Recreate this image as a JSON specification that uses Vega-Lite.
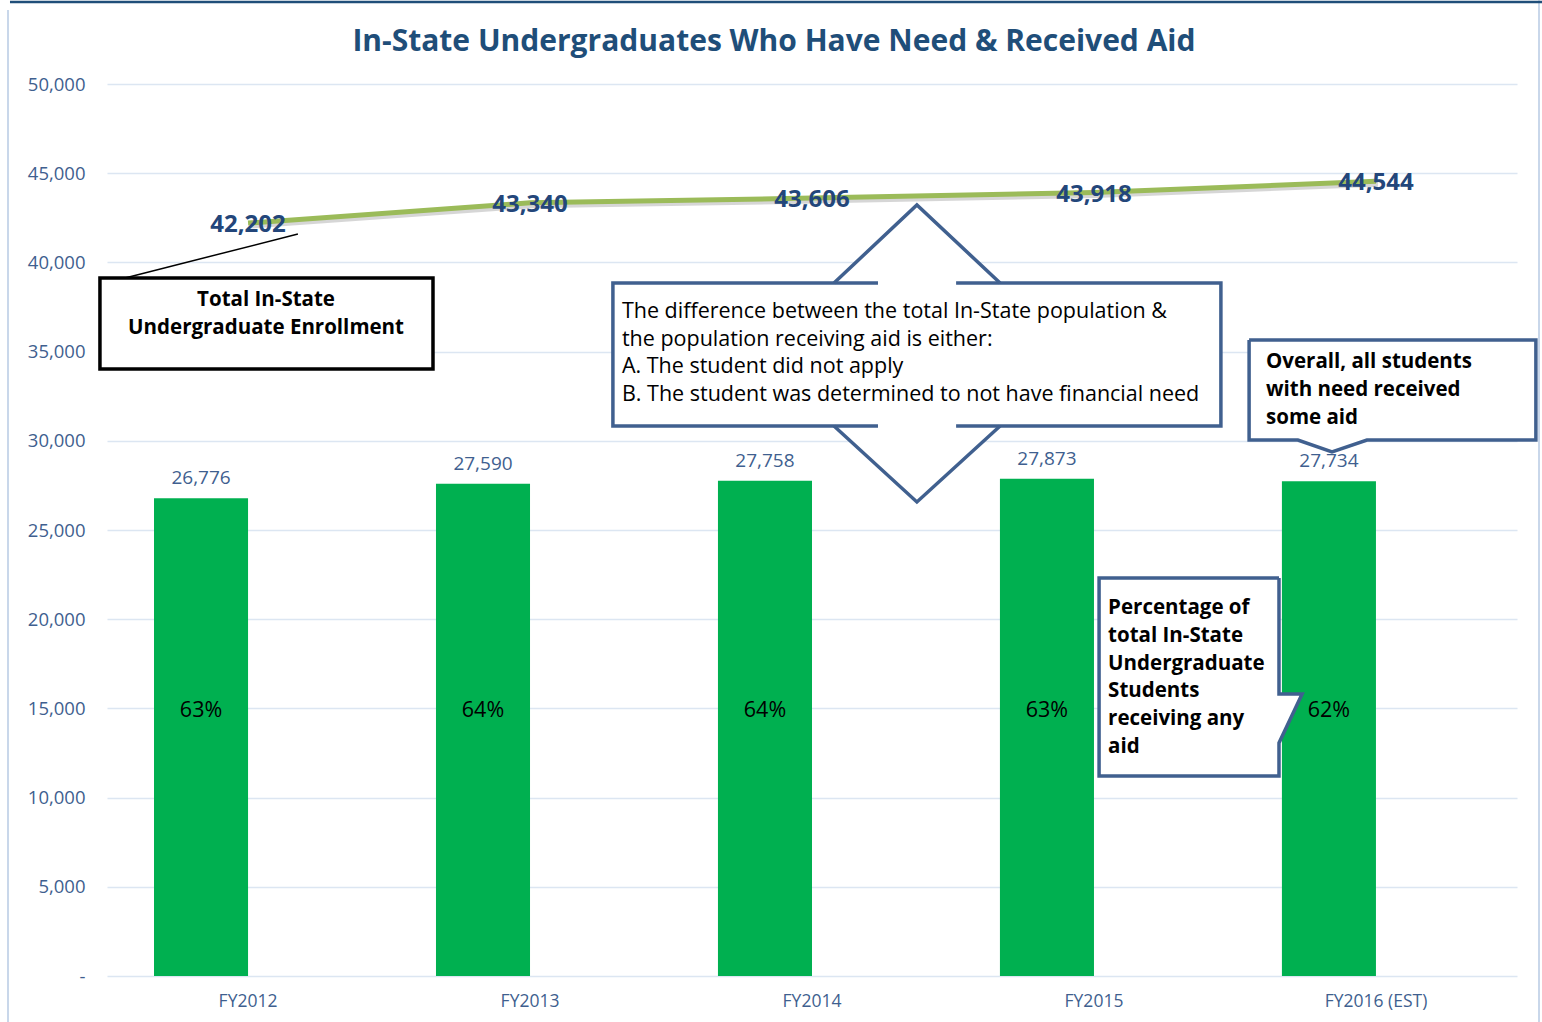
{
  "$schema": "https://vega.github.io/schema/vega-lite/v6.json",
  "width": 1410,
  "height": 892,
  "autosize": {"type": "none"},
  "padding": {"left": 107, "top": 84, "right": 25, "bottom": 46},
  "background": "white",
  "config": {"view": {"stroke": null}, "font": "Open Sans"},
  "datasets": {
    "main": [
      {"year": "FY2012", "series": "Received aid", "received": 26776, "total": 42202, "pct": "63%"},
      {"year": "FY2013", "series": "Received aid", "received": 27590, "total": 43340, "pct": "64%"},
      {"year": "FY2014", "series": "Received aid", "received": 27758, "total": 43606, "pct": "64%"},
      {"year": "FY2015", "series": "Received aid", "received": 27873, "total": 43918, "pct": "63%"},
      {"year": "FY2016 (EST)", "series": "Received aid", "received": 27734, "total": 44544, "pct": "62%"}
    ],
    "fillrects": [
      {"ax": 1.794, "ax2": 3.950, "ay": 30830, "ay2": 38845},
      {"ax": 4.050, "ax2": 5.067, "ay": 30045, "ay2": 35650},
      {"ax": 3.518, "ax2": 4.156, "ay": 11211, "ay2": 22309}
    ],
    "fillareas": [
      {"id": "up", "ax": 2.578, "ay": 38845, "ay2": 38845},
      {"id": "up", "ax": 2.872, "ay": 38845, "ay2": 43218},
      {"id": "up", "ax": 3.167, "ay": 38845, "ay2": 38845},
      {"id": "down", "ax": 2.578, "ay": 30830, "ay2": 30830},
      {"id": "down", "ax": 2.872, "ay": 30830, "ay2": 26570},
      {"id": "down", "ax": 3.167, "ay": 30830, "ay2": 30830},
      {"id": "ov", "ax": 4.223, "ay": 30045, "ay2": 30045},
      {"id": "ov", "ax": 4.344, "ay": 30045, "ay2": 29372},
      {"id": "ov", "ax": 4.468, "ay": 30045, "ay2": 30045},
      {"id": "pc", "ax": 4.156, "ay": 15807, "ay2": 13061},
      {"id": "pc", "ax": 4.238, "ay": 15807, "ay2": 15807}
    ],
    "outlines": [
      {"id": "A", "o": 1, "ax": 2.734, "ay": 38845},
      {"id": "A", "o": 2, "ax": 1.794, "ay": 38845},
      {"id": "A", "o": 3, "ax": 1.794, "ay": 30830},
      {"id": "A", "o": 4, "ax": 2.734, "ay": 30830},
      {"id": "B", "o": 1, "ax": 3.011, "ay": 38845},
      {"id": "B", "o": 2, "ax": 3.950, "ay": 38845},
      {"id": "B", "o": 3, "ax": 3.950, "ay": 30830},
      {"id": "B", "o": 4, "ax": 3.011, "ay": 30830},
      {"id": "U", "o": 1, "ax": 2.578, "ay": 38845},
      {"id": "U", "o": 2, "ax": 2.872, "ay": 43218},
      {"id": "U", "o": 3, "ax": 3.167, "ay": 38845},
      {"id": "D", "o": 1, "ax": 2.578, "ay": 30830},
      {"id": "D", "o": 2, "ax": 2.872, "ay": 26570},
      {"id": "D", "o": 3, "ax": 3.167, "ay": 30830},
      {"id": "OV", "o": 1, "ax": 4.050, "ay": 35650},
      {"id": "OV", "o": 2, "ax": 5.067, "ay": 35650},
      {"id": "OV", "o": 3, "ax": 5.067, "ay": 30045},
      {"id": "OV", "o": 4, "ax": 4.468, "ay": 30045},
      {"id": "OV", "o": 5, "ax": 4.344, "ay": 29372},
      {"id": "OV", "o": 6, "ax": 4.223, "ay": 30045},
      {"id": "OV", "o": 7, "ax": 4.050, "ay": 30045},
      {"id": "OV", "o": 8, "ax": 4.050, "ay": 35650},
      {"id": "PC", "o": 1, "ax": 4.156, "ay": 22309},
      {"id": "PC", "o": 2, "ax": 4.156, "ay": 15807},
      {"id": "PC", "o": 3, "ax": 4.238, "ay": 15807},
      {"id": "PC", "o": 4, "ax": 4.156, "ay": 13061},
      {"id": "PC", "o": 5, "ax": 4.156, "ay": 11211},
      {"id": "PC", "o": 6, "ax": 3.518, "ay": 11211},
      {"id": "PC", "o": 7, "ax": 3.518, "ay": 22309},
      {"id": "PC", "o": 8, "ax": 4.156, "ay": 22309}
    ]
  },
  "resolve": {"scale": {"x": "independent"}},
  "layer": [
    {
      "data": {"name": "main"},
      "layer": [
        {
          "mark": {"type": "bar", "color": "#00b050"},
          "encoding": {
            "x": {"field": "year", "type": "nominal", "sort": null,
              "scale": {"paddingInner": 0.333, "paddingOuter": 0.1667},
              "axis": {"title": null, "labelAngle": 0, "labelFont": "Open Sans", "labelFontSize": 17.5, "labelColor": "#3f5f8f", "ticks": false, "domain": false, "labelPadding": 16, "grid": false}},
            "xOffset": {"field": "series", "type": "nominal", "scale": {"domain": ["Received aid", "Total"], "paddingInner": 0, "paddingOuter": 0}},
            "y": {"field": "received", "type": "quantitative",
              "scale": {"domain": [0, 50000]},
              "axis": {"title": null, "values": [0, 5000, 10000, 15000, 20000, 25000, 30000, 35000, 40000, 45000, 50000],
                "labelExpr": "datum.value == 0 ? '-' : format(datum.value, ',')",
                "labelFont": "Open Sans", "labelFontSize": 18.5, "labelColor": "#3f5f8f", "ticks": false, "domain": false, "labelPadding": 22,
                "grid": true, "gridColor": "#dce6f2", "gridWidth": 1.5}}
          }
        },
        {
          "mark": {"type": "text", "font": "Open Sans", "fontSize": 19, "color": "#3f5f8f", "dy": -14, "baseline": "alphabetic"},
          "encoding": {
            "x": {"field": "year", "type": "nominal", "sort": null},
            "xOffset": {"field": "series", "type": "nominal"},
            "y": {"field": "received", "type": "quantitative", "scale": {"domain": [0, 50000]}, "title": null},
            "text": {"field": "received", "type": "quantitative", "format": ","}
          }
        },
        {
          "mark": {"type": "text", "font": "Open Sans", "fontSize": 21.5, "color": "#000000", "baseline": "middle", "dy": 1},
          "encoding": {
            "x": {"field": "year", "type": "nominal", "sort": null},
            "xOffset": {"field": "series", "type": "nominal"},
            "y": {"datum": 14900, "type": "quantitative", "scale": {"domain": [0, 50000]}, "title": null},
            "text": {"field": "pct", "type": "nominal"}
          }
        },
        {
          "mark": {"type": "line", "color": "#000000", "opacity": 0.16, "strokeWidth": 5, "yOffset": 3, "xOffset": 2},
          "encoding": {
            "x": {"field": "year", "type": "nominal", "sort": null},
            "y": {"field": "total", "type": "quantitative", "scale": {"domain": [0, 50000]}, "title": null}
          }
        },
        {
          "mark": {"type": "line", "color": "#9bbb59", "strokeWidth": 5},
          "encoding": {
            "x": {"field": "year", "type": "nominal", "sort": null},
            "y": {"field": "total", "type": "quantitative", "scale": {"domain": [0, 50000]}, "title": null}
          }
        },
        {
          "mark": {"type": "text", "font": "Open Sans", "fontSize": 24, "fontWeight": "bold", "color": "#23467a", "baseline": "middle", "dy": 2},
          "encoding": {
            "x": {"field": "year", "type": "nominal", "sort": null},
            "y": {"field": "total", "type": "quantitative", "scale": {"domain": [0, 50000]}, "title": null},
            "text": {"field": "total", "type": "quantitative", "format": ","}
          }
        }
      ]
    },
    {
      "layer": [
        {
          "data": {"values": [
            {"ax": -0.351, "ay": 54148, "ay2": -2578},
            {"ax": 5.078, "ay": 54700, "ay2": -2578}
          ]},
          "mark": {"type": "rule", "color": "#c9d7ea", "strokeWidth": 2},
          "encoding": {
            "x": {"field": "ax", "type": "quantitative", "scale": {"domain": [0, 5], "nice": false, "zero": false}, "axis": null},
            "y": {"field": "ay", "type": "quantitative", "scale": {"domain": [0, 50000]}, "title": null},
            "y2": {"field": "ay2"}
          }
        },
        {
          "data": {"values": [{"ax": -0.344, "ax2": 5.09, "ay": 54597}]},
          "mark": {"type": "rule", "color": "#1f4e79", "strokeWidth": 2.5},
          "encoding": {
            "x": {"field": "ax", "type": "quantitative", "scale": {"domain": [0, 5], "nice": false, "zero": false}, "axis": null},
            "x2": {"field": "ax2"},
            "y": {"field": "ay", "type": "quantitative", "scale": {"domain": [0, 50000]}, "title": null}
          }
        },
        {
          "data": {"values": [{"ax": 2.365, "ay": 52350, "t": "In-State Undergraduates Who Have Need & Received Aid"}]},
          "mark": {"type": "text", "font": "Open Sans", "fontSize": 30, "fontWeight": "bold", "color": "#1f4e79", "align": "center", "baseline": "middle"},
          "encoding": {
            "x": {"field": "ax", "type": "quantitative", "scale": {"domain": [0, 5], "nice": false, "zero": false}, "axis": null},
            "y": {"field": "ay", "type": "quantitative", "scale": {"domain": [0, 50000]}, "title": null},
            "text": {"field": "t", "type": "nominal"}
          }
        },
        {
          "data": {"values": [{"ax": 0.064, "ay": 39126}, {"ax": 0.677, "ay": 41592}]},
          "mark": {"type": "line", "color": "#000000", "strokeWidth": 1.5},
          "encoding": {
            "x": {"field": "ax", "type": "quantitative", "scale": {"domain": [0, 5], "nice": false, "zero": false}, "axis": null},
            "y": {"field": "ay", "type": "quantitative", "scale": {"domain": [0, 50000]}, "title": null}
          }
        },
        {
          "data": {"values": [{"ax": -0.025, "ax2": 1.156, "ay": 34025, "ay2": 39126}]},
          "mark": {"type": "rect", "fill": "#ffffff", "stroke": "#000000", "strokeWidth": 3.5},
          "encoding": {
            "x": {"field": "ax", "type": "quantitative", "scale": {"domain": [0, 5], "nice": false, "zero": false}, "axis": null},
            "x2": {"field": "ax2"},
            "y": {"field": "ay", "type": "quantitative", "scale": {"domain": [0, 50000]}, "title": null},
            "y2": {"field": "ay2"}
          }
        },
        {
          "data": {"name": "fillrects"},
          "mark": {"type": "rect", "fill": "#ffffff", "strokeWidth": 0},
          "encoding": {
            "x": {"field": "ax", "type": "quantitative", "scale": {"domain": [0, 5], "nice": false, "zero": false}, "axis": null},
            "x2": {"field": "ax2"},
            "y": {"field": "ay", "type": "quantitative", "scale": {"domain": [0, 50000]}, "title": null},
            "y2": {"field": "ay2"}
          }
        },
        {
          "data": {"name": "fillareas"},
          "mark": {"type": "area", "fill": "#ffffff", "opacity": 1},
          "encoding": {
            "x": {"field": "ax", "type": "quantitative", "scale": {"domain": [0, 5], "nice": false, "zero": false}, "axis": null},
            "y": {"field": "ay", "type": "quantitative", "scale": {"domain": [0, 50000]}, "title": null, "stack": null},
            "y2": {"field": "ay2"},
            "detail": {"field": "id", "type": "nominal"}
          }
        },
        {
          "data": {"name": "outlines"},
          "mark": {"type": "line", "color": "#40608f", "strokeWidth": 3.5, "strokeJoin": "miter"},
          "encoding": {
            "x": {"field": "ax", "type": "quantitative", "scale": {"domain": [0, 5], "nice": false, "zero": false}, "axis": null},
            "y": {"field": "ay", "type": "quantitative", "scale": {"domain": [0, 50000]}, "title": null},
            "detail": {"field": "id", "type": "nominal"},
            "order": {"field": "o", "type": "quantitative"}
          }
        },
        {
          "data": {"values": [
            {"ax": 0.564, "ay": 37892, "t": "Total In-State"},
            {"ax": 0.564, "ay": 36323, "t": "Undergraduate Enrollment"}
          ]},
          "mark": {"type": "text", "font": "Open Sans", "fontSize": 20.5, "fontWeight": "bold", "color": "#000000", "align": "center", "baseline": "middle"},
          "encoding": {
            "x": {"field": "ax", "type": "quantitative", "scale": {"domain": [0, 5], "nice": false, "zero": false}, "axis": null},
            "y": {"field": "ay", "type": "quantitative", "scale": {"domain": [0, 50000]}, "title": null},
            "text": {"field": "t", "type": "nominal"}
          }
        },
        {
          "data": {"values": [
            {"ax": 1.826, "ay": 37220, "t": "The difference between the total In-State population &"},
            {"ax": 1.826, "ay": 35650, "t": "the population receiving aid is either:"},
            {"ax": 1.826, "ay": 34137, "t": "A. The student did not apply"},
            {"ax": 1.826, "ay": 32567, "t": "B. The student was determined to not have financial need"}
          ]},
          "mark": {"type": "text", "font": "Open Sans", "fontSize": 21.5, "color": "#000000", "align": "left", "baseline": "middle"},
          "encoding": {
            "x": {"field": "ax", "type": "quantitative", "scale": {"domain": [0, 5], "nice": false, "zero": false}, "axis": null},
            "y": {"field": "ay", "type": "quantitative", "scale": {"domain": [0, 50000]}, "title": null},
            "text": {"field": "t", "type": "nominal"}
          }
        },
        {
          "data": {"values": [
            {"ax": 4.110, "ay": 34417, "t": "Overall, all students"},
            {"ax": 4.110, "ay": 32848, "t": "with need received"},
            {"ax": 4.110, "ay": 31278, "t": "some aid"},
            {"ax": 3.550, "ay": 20628, "t": "Percentage of"},
            {"ax": 3.550, "ay": 19058, "t": "total In-State"},
            {"ax": 3.550, "ay": 17489, "t": "Undergraduate"},
            {"ax": 3.550, "ay": 15975, "t": "Students"},
            {"ax": 3.550, "ay": 14406, "t": "receiving any"},
            {"ax": 3.550, "ay": 12836, "t": "aid"}
          ]},
          "mark": {"type": "text", "font": "Open Sans", "fontSize": 20.5, "fontWeight": "bold", "color": "#000000", "align": "left", "baseline": "middle"},
          "encoding": {
            "x": {"field": "ax", "type": "quantitative", "scale": {"domain": [0, 5], "nice": false, "zero": false}, "axis": null},
            "y": {"field": "ay", "type": "quantitative", "scale": {"domain": [0, 50000]}, "title": null},
            "text": {"field": "t", "type": "nominal"}
          }
        }
      ]
    }
  ]
}
